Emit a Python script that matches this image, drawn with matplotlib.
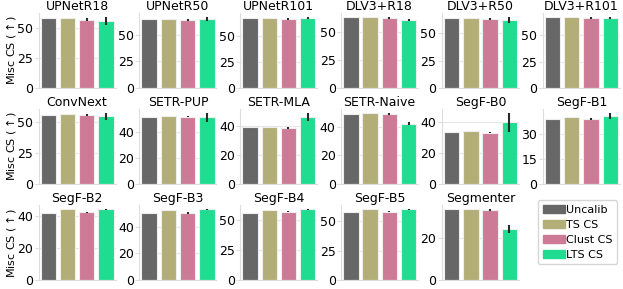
import numpy as np
import matplotlib
matplotlib.use("Agg")
import matplotlib.pyplot as plt
from matplotlib.ticker import MaxNLocator

models = ["UPNetR18", "UPNetR50", "UPNetR101", "DLV3+R18", "DLV3+R50", "DLV3+R101",
          "ConvNext", "SETR-PUP", "SETR-MLA", "SETR-Naive", "SegF-B0", "SegF-B1",
          "SegF-B2", "SegF-B3", "SegF-B4", "SegF-B5", "Segmenter"]
methods = ["Uncalib", "TS CS", "Clust CS", "LTS CS"]
colors = ["#676767", "#b3ad77", "#cd7a96", "#20dc90"]

uncalib = [58, 65, 68, 64, 64.5, 67, 56, 51.5, 39.2, 49.2, 33.8, 39.0, 42.1, 49.9, 55.6, 57.4, 33.9]
ts_cs = [58, 65, 68, 64, 64.5, 67, 57, 52, 39.3, 50, 34, 40.0, 44.4, 52.1, 58.1, 60.3, 33.9]
clust_cs = [57, 64, 67, 63, 63.5, 66, 56, 51.5, 38.8, 49, 33.3, 39.2, 42.5, 50.0, 56.7, 58.0, 33.1]
lts_cs = [56, 65, 68, 61, 62.5, 66.5, 55, 51, 46.3, 42.1, 40, 41.0, 44.4, 52.9, 58.7, 60.2, 24.2]

clust_err = [1, 1, 1, 1, 1, 1, 1, 0.6, 0.6, 0.6, 0.6, 0.6, 0.5, 0.5, 0.5, 0.5, 0.5]
lts_err = [3.5, 2, 1, 1, 3, 1, 3, 3.5, 3, 1, 6.2, 1.8, 0.5, 0.5, 0.5, 0.5, 2]

plt.rcParams["font.family"] = "DejaVu Sans"
plt.rcParams["font.size"] = 9

fig, axes = plt.subplots(3, 6, figsize=(6.23, 2.89), dpi=100)
fig.subplots_adjust(left=0.062, right=0.995, top=0.955, bottom=0.031, wspace=0.31, hspace=0.28)

for i, ax in enumerate(axes.flat):
    if i >= len(models):
        ax.axis("off")
        continue
    vals = [uncalib[i], ts_cs[i], clust_cs[i], lts_cs[i]]
    errs = [0, 0, clust_err[i], lts_err[i]]
    x = np.arange(4)
    ax.bar(x, vals, width=0.8, color=colors, edgecolor="#eeeeee", linewidth=0.8, zorder=2)
    for j in (2, 3):
        ax.plot([x[j], x[j]], [vals[j] - errs[j], vals[j] + errs[j]],
                color="#2a2a2a", lw=1.5, zorder=3, solid_capstyle="butt")
    ax.set_title(models[i], fontsize=9, pad=2)
    ax.set_xticks([])
    ax.set_xlim(-0.5, 3.5)
    nb = 2 if models[i] == "Segmenter" else 3
    ax.yaxis.set_major_locator(MaxNLocator(nb))
    ax.grid(axis="y", color="#e6e6e6", lw=0.8, zorder=0)
    ax.set_axisbelow(True)
    for s in ("top", "right"):
        ax.spines[s].set_visible(False)
    for s in ("left", "bottom"):
        ax.spines[s].set_color("#dddddd")
    ax.tick_params(axis="y", length=3, color="#dddddd", labelsize=9, pad=1)
    if i % 6 == 0:
        ax.set_ylabel("Misc CS ($\\uparrow$)", fontsize=8)
        ax.yaxis.set_label_coords(-0.27, 0.5)

handles = [plt.Rectangle((0, 0), 1, 1, color=c) for c in colors]
axes[2, 5].legend(handles, methods, loc="center", bbox_to_anchor=(0.45, 0.635),
                  fontsize=8, handlelength=2.0, handletextpad=0.1,
                  labelspacing=0.45, borderpad=0.4, frameon=True, edgecolor="#cccccc")

fig.savefig("out.png", dpi=100)
